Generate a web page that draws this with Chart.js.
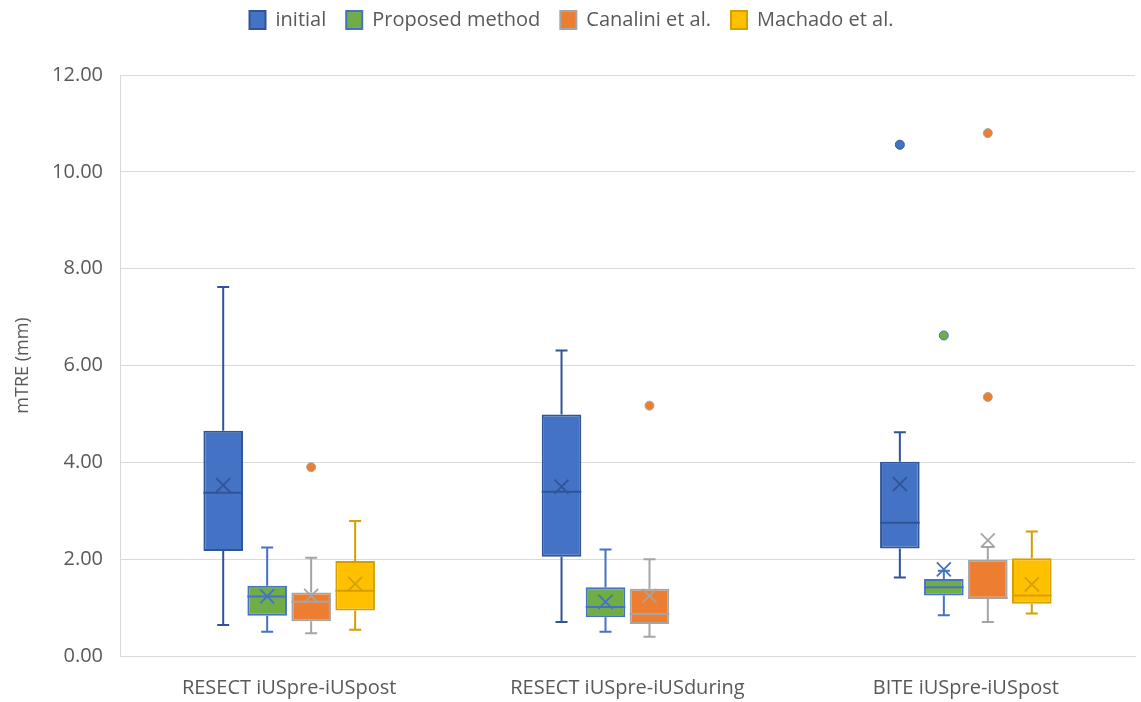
<!DOCTYPE html>
<html lang="en">
<head>
    <meta charset="UTF-8">
    <title>mTRE box plot</title>
    <style>
        body {
            margin: 0;
            background: #fff;
        }
        .chart-container {
            width: 1141px;
            height: 702px;
        }
    </style>
</head>
<body>
    <div class="chart-container">
        <canvas id="boxChart"></canvas>
    </div>

    <script src="https://cdn.jsdelivr.net/npm/chart.js"></script>
    <script>
        const categories = ['RESECT iUSpre-iUSpost', 'RESECT iUSpre-iUSduring', 'BITE iUSpre-iUSpost'];
        const yTicks = [0, 2, 4, 6, 8, 10, 12];

        // each entry: [min, q1, median, q3, max]
        const initialStats = [[0.64, 2.17, 3.37, 4.65, 7.62], [0.70, 2.05, 3.39, 4.99, 6.31], [1.62, 2.22, 2.75, 4.01, 4.62]];
        const initialMeans = [3.53, 3.50, 3.55];
        const initialOutliers = [[], [], [10.56]];

        const proposedStats = [[0.50, 0.83, 1.23, 1.45, 2.24], [0.50, 0.80, 1.01, 1.42, 2.20], [0.84, 1.25, 1.42, 1.59, 1.76]];
        const proposedMeans = [1.23, 1.12, 1.79];
        const proposedOutliers = [[], [], [6.62]];

        const canaliniStats = [[0.47, 0.72, 1.12, 1.31, 2.03], [0.40, 0.66, 0.87, 1.39, 2.00], [0.70, 1.18, 1.20, 1.99, 2.25]];
        const canaliniMeans = [1.24, 1.24, 2.39];
        const canaliniOutliers = [[3.90], [5.17], [10.80, 5.35]];

        const machadoStats = [[0.54, 0.94, 1.35, 1.96, 2.79], null, [0.88, 1.08, 1.25, 2.02, 2.57]];
        const machadoMeans = [1.49, null, 1.48];
        const machadoOutliers = [[], [], []];

        const textColor = '#595959';
        const gridColor = '#d9d9d9';

        function makeSet(label, stats, means, outliers, fill, border) {
            return {
                label: label,
                data: stats.map(s => s ? [s[1], s[3]] : null),
                stats: stats,
                means: means,
                outliers: outliers,
                backgroundColor: fill,
                borderColor: border,
                borderWidth: 2,
                borderSkipped: false
            };
        }

        // whiskers, median, mean cross and outlier dots, placed with the chart's own scales
        const boxExtras = {
            id: 'boxExtras',
            afterDatasetsDraw(chart) {
                const ctx = chart.ctx;
                const y = chart.scales.y;
                chart.data.datasets.forEach((ds, di) => {
                    const meta = chart.getDatasetMeta(di);
                    ds.stats.forEach((s, i) => {
                        if (!s) return;
                        const bar = meta.data[i];
                        const cx = bar.x;
                        const half = bar.width / 2;
                        ctx.save();
                        ctx.strokeStyle = ds.borderColor;
                        ctx.lineWidth = 2;
                        ctx.beginPath();
                        // upper whisker
                        ctx.moveTo(cx, y.getPixelForValue(s[3]));
                        ctx.lineTo(cx, y.getPixelForValue(s[4]));
                        ctx.moveTo(cx - 6, y.getPixelForValue(s[4]));
                        ctx.lineTo(cx + 6, y.getPixelForValue(s[4]));
                        // lower whisker
                        ctx.moveTo(cx, y.getPixelForValue(s[1]));
                        ctx.lineTo(cx, y.getPixelForValue(s[0]));
                        ctx.moveTo(cx - 6, y.getPixelForValue(s[0]));
                        ctx.lineTo(cx + 6, y.getPixelForValue(s[0]));
                        // median
                        ctx.moveTo(cx - half, y.getPixelForValue(s[2]));
                        ctx.lineTo(cx + half, y.getPixelForValue(s[2]));
                        ctx.stroke();

                        // mean cross
                        const my = y.getPixelForValue(ds.means[i]);
                        ctx.lineWidth = 1.8;
                        ctx.beginPath();
                        ctx.moveTo(cx - 7, my - 7);
                        ctx.lineTo(cx + 7, my + 7);
                        ctx.moveTo(cx + 7, my - 7);
                        ctx.lineTo(cx - 7, my + 7);
                        ctx.stroke();

                        // outliers
                        ds.outliers[i].forEach(v => {
                            ctx.beginPath();
                            ctx.arc(cx, y.getPixelForValue(v), 4.5, 0, Math.PI * 2);
                            ctx.fillStyle = ds.backgroundColor;
                            ctx.fill();
                            ctx.lineWidth = 1;
                            ctx.stroke();
                        });
                        ctx.restore();
                    });
                });
            }
        };

        const ctx = document.getElementById('boxChart').getContext('2d');
        const boxChart = new Chart(ctx, {
            type: 'bar',
            data: {
                labels: categories,
                datasets: [
                    makeSet('initial', initialStats, initialMeans, initialOutliers, '#4472C4', '#2F5597'),
                    makeSet('Proposed method', proposedStats, proposedMeans, proposedOutliers, '#70AD47', '#4472C4'),
                    makeSet('Canalini et al.', canaliniStats, canaliniMeans, canaliniOutliers, '#ED7D31', '#A5A5A5'),
                    makeSet('Machado et al.', machadoStats, machadoMeans, machadoOutliers, '#FFC000', '#D4A000')
                ]
            },
            options: {
                responsive: true,
                maintainAspectRatio: false,
                animation: false,
                categoryPercentage: 0.52,
                barPercentage: 0.9,
                layout: {
                    padding: { left: 8, right: 6, top: -10, bottom: 0 }
                },
                plugins: {
                    tooltip: { enabled: false },
                    legend: {
                        position: 'top',
                        labels: {
                            boxWidth: 16,
                            boxHeight: 18,
                            padding: 20,
                            color: textColor,
                            font: { family: 'Open Sans', size: 20 }
                        }
                    }
                },
                scales: {
                    x: {
                        grid: { display: false },
                        border: { color: gridColor },
                        afterFit: axis => { axis.height = 46; },
                        ticks: {
                            color: textColor,
                            padding: 12,
                            font: { family: 'Open Sans', size: 20 }
                        }
                    },
                    y: {
                        min: 0,
                        max: 12,
                        afterBuildTicks: axis => { axis.ticks = yTicks.map(v => ({ value: v })); },
                        afterFit: axis => { axis.width = 112; },
                        grid: { color: gridColor, drawTicks: false },
                        border: { color: gridColor },
                        title: {
                            display: true,
                            text: 'mTRE (mm)',
                            color: textColor,
                            font: { family: 'Open Sans', size: 18 }
                        },
                        ticks: {
                            color: textColor,
                            padding: 17,
                            font: { family: 'Open Sans', size: 20 },
                            callback: v => v.toFixed(2)
                        }
                    }
                }
            },
            plugins: [boxExtras, {
                id: 'legendGap',
                beforeInit(chart) {
                    const fit = chart.legend.fit;
                    chart.legend.fit = function () {
                        fit.bind(chart.legend)();
                        this.height = 85;
                    };
                }
            }]
        });
    </script>
</body>
</html>
